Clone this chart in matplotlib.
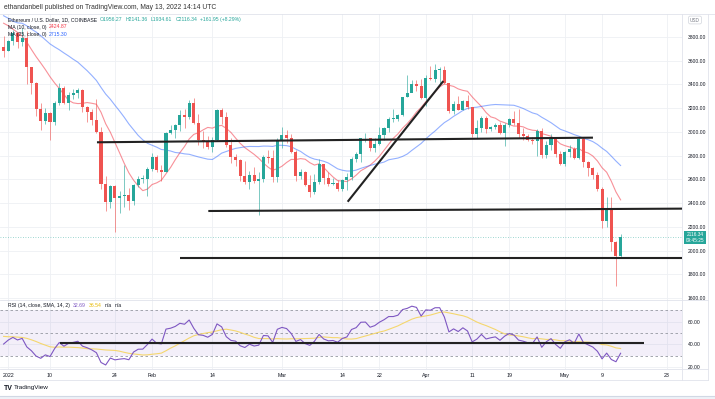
import matplotlib
matplotlib.use('Agg')
import matplotlib.pyplot as plt
import matplotlib.dates as mdates
from matplotlib.lines import Line2D
from matplotlib.patches import Rectangle
from matplotlib.text import Annotation
import numpy as np
import pandas as pd

plt.rcParams['font.family'] = ['Liberation Sans', 'DejaVu Sans']

# ---- data: ETH/USD daily candles (Coinbase) ----
dates = pd.date_range('2021-12-31', '2022-05-13', freq='D')
open_ = [3713,
         3683, 3769, 3829, 3761, 3794, 3550, 3415, 3196, 3092, 3157, 3083, 3239, 3372, 3247, 3310, 3331,
         3355, 3212, 3163, 3096, 3001, 2560, 2405, 2540, 2443, 2457, 2466, 2416, 2550, 2603, 2605,
         2688, 2792, 2682, 2665, 2990, 3014, 3060, 3143, 3125, 3239, 3077, 2932, 2918, 2874, 2931,
         3183, 3122, 2889, 2786, 2766, 2629, 2574, 2637, 2585, 2600, 2786, 2779, 2620,
         2920, 2972, 2946, 2834, 2624, 2664, 2549, 2495, 2576, 2727, 2609, 2558, 2565, 2520, 2591,
         2620, 2773, 2814, 2944, 2948, 2860, 2895, 2971, 3030, 3110, 3110, 3142, 3295, 3331, 3400, 3386,
         3282, 3451, 3446, 3521, 3522, 3411, 3174, 3236, 3188, 3262, 3207, 2982, 3030, 3120, 3021,
         3043, 3059, 2990, 3058, 3104, 3077, 2985, 2964, 2935, 2922, 3008, 2808, 2889, 2936, 2817,
         2727, 2826, 2857, 2783, 2940, 2749, 2695, 2637, 2518, 2245, 2342, 2071, 1956.27]
high = [3810,
        3771, 3857, 3838, 3877, 3848, 3550, 3421, 3239, 3197, 3170, 3263, 3413, 3385, 3333, 3364, 3371,
        3358, 3215, 3190, 3280, 3043, 2631, 2550, 2555, 2498, 2722, 2524, 2558, 2625, 2640, 2700,
        2818, 2806, 2718, 3000, 3060, 3065, 3180, 3196, 3270, 3282, 3150, 3003, 2967, 2960,
        3196, 3200, 3170, 2947, 2812, 2769, 2753, 2673, 2700, 2661, 2808, 2845, 2847, 2945,
        3040, 3016, 2978, 2848, 2685, 2666, 2640, 2646, 2774, 2727, 2659, 2615, 2592, 2605, 2653,
        2790, 2832, 2950, 2990, 2952, 2950, 3045, 3037, 3125, 3190, 3150, 3295, 3480, 3440, 3441, 3446,
        3475, 3557, 3575, 3545, 3557, 3413, 3260, 3300, 3270, 3310, 3212, 3100, 3132, 3130, 3053,
        3075, 3085, 3075, 3120, 3175, 3190, 3030, 2985, 2960, 3020, 3035, 2920, 2980, 2950, 2840,
        2840, 2885, 2870, 2960, 2955, 2755, 2700, 2660, 2537, 2450, 2450, 2080, 2141.36]
low = [3630,
       3683, 3730, 3707, 3722, 3400, 3320, 3132, 3018, 3065, 2930, 3058, 3225, 3232, 3182, 3275, 3289,
       3170, 3087, 3055, 2990, 2520, 2335, 2362, 2159, 2312, 2365, 2343, 2380, 2531, 2565, 2459,
       2670, 2658, 2586, 2660, 2982, 2952, 3010, 3030, 3110, 3064, 2890, 2860, 2858, 2830,
       2926, 3070, 2870, 2740, 2711, 2585, 2560, 2520, 2570, 2300, 2580, 2735, 2580, 2575,
       2860, 2905, 2820, 2585, 2602, 2544, 2454, 2480, 2560, 2560, 2545, 2550, 2502, 2500, 2507,
       2593, 2750, 2750, 2915, 2835, 2830, 2890, 2930, 2995, 3083, 3094, 3130, 3293, 3332, 3340, 3276,
       3216, 3440, 3422, 3404, 3405, 3155, 3150, 3180, 3180, 3190, 2955, 2950, 2997, 2990, 3005,
       3020, 2985, 2880, 3045, 3055, 2952, 2935, 2922, 2900, 2800, 2780, 2780, 2850, 2790, 2722,
       2710, 2785, 2770, 2773, 2705, 2628, 2600, 2500, 2186, 2196, 2000, 1700, 1934.61]
close = [3683,
         3769, 3829, 3761, 3794, 3550, 3415, 3196, 3092, 3157, 3083, 3239, 3372, 3247, 3310, 3331, 3355,
         3212, 3163, 3096, 3001, 2560, 2405, 2540, 2443, 2457, 2466, 2416, 2550, 2603, 2605, 2688,
         2792, 2682, 2665, 2990, 3014, 3060, 3143, 3125, 3239, 3077, 2932, 2918, 2874, 2931,
         3183, 3122, 2889, 2786, 2766, 2629, 2574, 2637, 2585, 2600, 2786, 2779, 2620, 2920,
         2972, 2946, 2834, 2624, 2664, 2549, 2495, 2576, 2727, 2609, 2558, 2565, 2520, 2591, 2620,
         2773, 2814, 2944, 2948, 2860, 2895, 2971, 3030, 3110, 3110, 3142, 3295, 3331, 3400, 3386, 3282,
         3451, 3446, 3521, 3522, 3411, 3174, 3236, 3188, 3262, 3207, 2982, 3030, 3120, 3021, 3043,
         3059, 2990, 3058, 3104, 3077, 2985, 2964, 2935, 2922, 3008, 2808, 2889, 2936, 2817, 2727,
         2826, 2857, 2783, 2940, 2749, 2695, 2637, 2518, 2245, 2342, 2071, 1956.27, 2116.34]

# closes before the visible window, only used to warm up the indicators
warmup_dates = pd.date_range('2021-11-01', '2021-12-30', freq='D')
warmup_close = [4319, 4596, 4606, 4537, 4478, 4519, 4622, 4812, 4735, 4643, 4722, 4669, 4649, 4627, 4568,
                4213, 4290, 3990, 4300, 4437, 4318, 4089, 4340, 4270, 4520, 4037, 4097, 4293, 4444, 4632,
                4586, 4512, 4220, 4119, 4198, 4347, 4310, 4436, 4111, 3894, 4077, 4132, 3784, 3862, 4017,
                3961, 3880, 3960, 3923, 3942, 4019, 3982, 4108, 4047, 4094, 4067, 4037, 3794, 3628, 3713]

# legend readouts as printed on the chart
ma10_text, ma25_text = '2424.87', '2715.30'
rsi_text, rsi_ma_text = '32.69', '36.54'

# drawn trend lines: (start, end) as (date, value)
price_lines = [(('2022-01-20 03:00', 2912), ('2022-05-07 01:00', 2951)),
               (('2022-02-13 03:00', 2333), ('2022-05-27 00:00', 2353)),
               (('2022-02-07 00:00', 1937), ('2022-05-27 00:00', 1937)),
               (('2022-03-15 04:00', 2411), ('2022-04-04 19:00', 3428))]
rsi_lines = [(('2022-01-12 04:00', 41.5), ('2022-05-18 00:00', 41.5))]

date_ticks = ['2022-01-01', '2022-01-10', '2022-01-24', '2022-02-01', '2022-02-14', '2022-03-01',
              '2022-03-14', '2022-03-22', '2022-04-01', '2022-04-11', '2022-04-19', '2022-05-01',
              '2022-05-09', '2022-05-23']
date_labels = ['2022', '10', '24', 'Feb', '14', 'Mar', '14', '22', 'Apr', '11', '19', 'May', '9', '23']
price_ticks = list(range(1600, 3801, 200))
rsi_ticks = [20, 40, 60]

# ---- indicators ----
all_close = pd.Series(warmup_close + close, index=warmup_dates.append(dates))
ma10 = all_close.rolling(10).mean()[dates]
ma25 = all_close.rolling(25).mean()[dates]
delta = all_close.diff()
up = delta.clip(lower=0).ewm(alpha=1 / 14, adjust=False).mean()
down = (-delta.clip(upper=0)).ewm(alpha=1 / 14, adjust=False).mean()
rsi_all = 100 - 100 / (1 + up / down)
rsi_ma = rsi_all.rolling(14).mean()[dates]
rsi = rsi_all[dates]

UP, DOWN = '#26a69a', '#ef5350'
W, H = 715, 399


def fx(px):
    return px / W


def fy(py):
    return 1 - py / H


def to_x(d):
    return mdates.date2num(pd.Timestamp(d))


fig = plt.figure(figsize=(W / 100, H / 100), dpi=100)
ax = fig.add_axes([0, fy(300), fx(682), (300 - 14) / H])
ax_r = fig.add_axes([0, fy(369), fx(682), (369 - 300) / H], sharex=ax)

x = mdates.date2num(dates)
o, h, l, c = map(np.array, (open_, high, low, close))
cols = np.where(c >= o, UP, DOWN)
ax.vlines(x, l, h, colors=cols, lw=0.6, alpha=0.7, zorder=3)
body = np.maximum(np.abs(c - o), 6)
ax.bar(x, body, bottom=np.minimum(o, c), width=0.66, color=cols, lw=0, zorder=4)

ax.plot(x, ma10, color='#f23645', lw=0.8, alpha=0.55, zorder=2)
ax.plot(x, ma25, color='#2962ff', lw=0.8, alpha=0.5, zorder=2)
ax.axhline(close[-1], color=UP, lw=0.6, ls=(0, (1, 2)), alpha=0.6, zorder=1)

for (d0, v0), (d1, v1) in price_lines:
    ax.plot([to_x(d0), to_x(d1)], [v0, v1], color='#222222', lw=1.5,
            solid_capstyle='butt', zorder=5)

ax.set_ylim(1583, 3993)
xl = to_x('2022-01-01') + np.array([-8.25, 682 - 8.25]) / 4.639
ax.set_xlim(*xl)

# RSI pane
ax_r.axhspan(30, 70, color='#7e57c2', alpha=0.09, lw=0)
for lvl in (30, 50, 70):
    ax_r.axhline(lvl, color='#9598a1', lw=0.6, ls=(0, (3, 3)))
ax_r.plot(x, rsi_ma, color='#f5d76e', lw=0.8, zorder=3)
ax_r.plot(x, rsi, color='#7e57c2', lw=0.8, zorder=4)
for (d0, v0), (d1, v1) in rsi_lines:
    ax_r.plot([to_x(d0), to_x(d1)], [v0, v1], color='#222222', lw=1.5,
              solid_capstyle='butt', zorder=5)
ax_r.set_ylim(18.5, 79)

tick_x = [to_x(d) for d in date_ticks]
for a in (ax, ax_r):
    a.set_facecolor('white')
    for s in a.spines.values():
        s.set_visible(False)
    a.grid(True, color='#eef0f4', lw=0.6, zorder=0)
    a.set_axisbelow(True)
    a.yaxis.tick_right()
    a.tick_params(axis='y', length=0, pad=4, labelsize=3.6, labelcolor='#131722')
ax.set_yticks(price_ticks)
ax.set_yticklabels([f'{p:.2f}' for p in price_ticks])
ax_r.set_yticks(rsi_ticks)
ax_r.set_yticklabels([f'{p:.2f}' for p in rsi_ticks])
ax_r.set_xticks(tick_x)
ax_r.set_xticklabels(date_labels)
ax_r.tick_params(axis='x', length=0, pad=3, labelsize=3.8, labelcolor='#131722')
ax.tick_params(axis='x', length=0, labelbottom=False)

# frame lines
line_kw = dict(color='#e0e3eb', lw=0.6, transform=fig.transFigure)
fig.add_artist(Line2D([0, 1], [fy(13.5)] * 2, **line_kw))
fig.add_artist(Line2D([0, fx(708)], [fy(300)] * 2, **line_kw))
fig.add_artist(Line2D([0, fx(708)], [fy(369)] * 2, **line_kw))
fig.add_artist(Line2D([0, fx(708)], [fy(380)] * 2, **line_kw))
fig.add_artist(Line2D([fx(682)] * 2, [fy(13.5), fy(380)], **line_kw))
fig.add_artist(Line2D([fx(708)] * 2, [fy(13.5), fy(380)], **line_kw))
fig.add_artist(Rectangle((0, 0), 1, fy(396), color='#eef2f8', transform=fig.transFigure, lw=0))
fig.add_artist(Line2D([0, 1], [fy(396)] * 2, color='#d1d8e4', lw=0.8, transform=fig.transFigure))

# texts
fig.text(fx(4), fy(7.5), 'ethandanbell published on TradingView.com, May 13, 2022 14:14 UTC',
         fontsize=4.9, color='#333333', va='center')


def chain(px, py, parts, size):
    t = fig.text(fx(px), fy(py), parts[0][0], color=parts[0][1], fontsize=size, va='center')
    for txt, col in parts[1:]:
        t = fig.add_artist(Annotation(txt, xy=(1, 0.5), xycoords=t, xytext=(2.2, 0),
                                      textcoords='offset points', va='center', ha='left',
                                      fontsize=size, color=col, annotation_clip=False))


chain(7.7, 19.5, [('Ethereum / U.S. Dollar, 1D, COINBASE', '#131722'), ('O1956.27', UP),
                  ('H2141.36', UP), ('L1934.61', UP), ('C2116.34', UP), ('+161.95 (+8.29%)', UP)], 3.7)
chain(7.7, 27, [('MA (10, close, 0)', '#131722'), (ma10_text, '#f23645')], 3.7)
chain(7.7, 34.5, [('MA (25, close, 0)', '#131722'), (ma25_text, '#2962ff')], 3.7)
chain(8, 305.7, [('RSI (14, close, SMA, 14, 2)', '#131722'), (rsi_text, '#7e57c2'),
                 (rsi_ma_text, '#e6b800'), ('n/a', '#131722'), ('n/a', '#131722')], 3.7)

fig.text(fx(695), fy(20), 'USD', fontsize=3.4, color='#787b86', ha='center', va='center',
         bbox=dict(boxstyle='round,pad=0.3', fc='white', ec='#d1d4dc', lw=0.5))
fig.text(fx(695), fy(237.5), f'{close[-1]:.2f}\n09:45:25', fontsize=3.4, color='white',
         ha='center', va='center', linespacing=1.1,
         bbox=dict(boxstyle='square,pad=0.35', fc=UP, ec=UP, lw=0))

fig.text(fx(4), fy(388), 'TV', fontsize=5, fontweight='bold', color='#131722', va='center')
fig.text(fx(13.5), fy(388), 'TradingView', fontsize=4.6, color='#131722', va='center')

fig.savefig('out.png', dpi=100)
